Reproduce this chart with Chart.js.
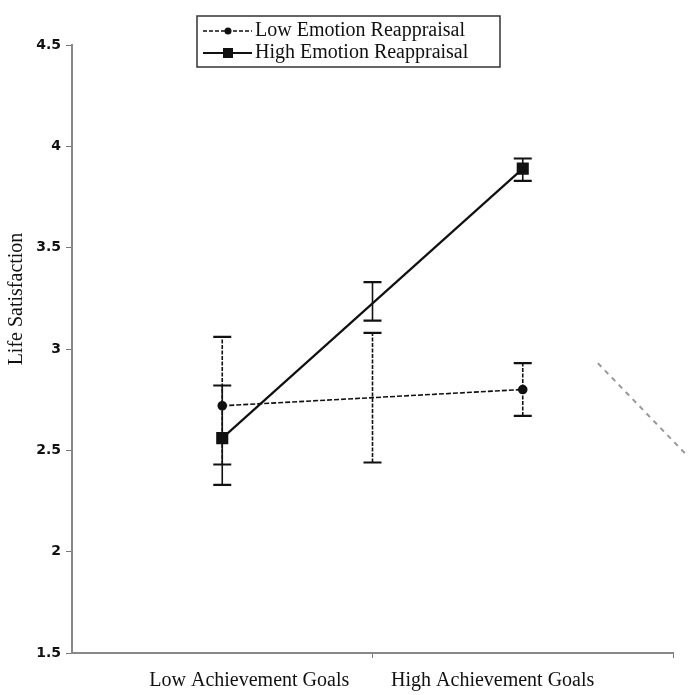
<!DOCTYPE html>
<html>
<head>
<meta charset="utf-8">
<script src="https://cdn.jsdelivr.net/npm/chart.js@4"></script>
<style>
  body { margin: 0; background: #fff; }
  #wrap { width: 694px; height: 695px; }
</style>
</head>
<body>
<div id="wrap"><canvas id="chart" width="694" height="695"></canvas></div>
<script>
// categories sit at 0.5 and 1.5 on a 0..2 linear axis
const categories = ['Low Achievement Goals', 'High Achievement Goals'];
const categoryX = [0.5, 1.5];
const seriesNames = ['Low Emotion Reappraisal', 'High Emotion Reappraisal'];

const lowEmotion = [2.72, 2.80];
const highEmotion = [2.56, 3.89];

// error bar ends [bottom, top]
const lowEmotionErr = [[2.43, 3.06], [2.67, 2.93]];
const highEmotionErr = [[2.33, 2.82], [3.83, 3.94]];

// stray bars drawn between the two groups in the original
const strayBarX = 1;
const strayLowBar = [2.44, 3.08];
const strayHighBar = [3.14, 3.33];

// grey dashed stroke at the right edge
const strayLineX = [1.75, 2.05];
const strayLineY = [2.93, 2.47];

const yTicks = [1.5, 2, 2.5, 3, 3.5, 4, 4.5];
const yTitle = 'Life Satisfaction';

const serif = '"Liberation Serif", "Times New Roman", serif';

// the category names sit a bit closer to the middle than the points do
const labelTicks = [0.59, 1.4];

const errorBars = {
    id: 'errorBars',
    beforeDatasetsDraw(chart) {
        const xs = chart.scales.x, ys = chart.scales.y;
        const ctx = chart.ctx;
        function bar(x, lo, hi, dashed) {
            const px = xs.getPixelForValue(x);
            const y1 = ys.getPixelForValue(lo), y2 = ys.getPixelForValue(hi);
            ctx.save();
            ctx.strokeStyle = '#111';
            ctx.lineWidth = 1.6;
            ctx.setLineDash(dashed ? [4, 1.5] : []);
            ctx.beginPath();
            ctx.moveTo(px, y1); ctx.lineTo(px, y2);
            ctx.stroke();
            ctx.setLineDash([]);
            ctx.lineWidth = 2.2;
            ctx.beginPath();
            ctx.moveTo(px - 9, y1); ctx.lineTo(px + 9, y1);
            ctx.moveTo(px - 9, y2); ctx.lineTo(px + 9, y2);
            ctx.stroke();
            ctx.restore();
        }
        categoryX.forEach((x, i) => {
            bar(x, lowEmotionErr[i][0], lowEmotionErr[i][1], true);
            bar(x, highEmotionErr[i][0], highEmotionErr[i][1], false);
        });
        bar(strayBarX, strayLowBar[0], strayLowBar[1], true);
        bar(strayBarX, strayHighBar[0], strayHighBar[1], false);
    },
    afterDraw(chart) {
        const ctx = chart.ctx;
        ctx.save();
        // y axis title
        ctx.fillStyle = '#111';
        ctx.font = '20px ' + serif;
        ctx.textAlign = 'center';
        ctx.textBaseline = 'middle';
        ctx.translate(17, 299);
        ctx.rotate(-Math.PI / 2);
        ctx.fillText(yTitle, 0, 0);
        ctx.restore();

        // legend box
        ctx.save();
        ctx.fillStyle = '#fff';
        ctx.fillRect(197, 16, 303, 51);
        ctx.strokeStyle = '#333';
        ctx.lineWidth = 1.5;
        ctx.strokeRect(197, 16, 303, 51);
        ctx.strokeStyle = '#111';
        ctx.fillStyle = '#111';
        // row 1
        ctx.lineWidth = 1.5;
        ctx.setLineDash([4, 2]);
        ctx.beginPath(); ctx.moveTo(203, 31); ctx.lineTo(252, 31); ctx.stroke();
        ctx.setLineDash([]);
        ctx.beginPath(); ctx.arc(228, 31, 3.5, 0, Math.PI * 2); ctx.fill();
        // row 2
        ctx.lineWidth = 2.2;
        ctx.beginPath(); ctx.moveTo(203, 53); ctx.lineTo(252, 53); ctx.stroke();
        ctx.fillRect(223, 48, 10, 10);
        ctx.font = '20px ' + serif;
        ctx.textAlign = 'left';
        ctx.textBaseline = 'middle';
        ctx.fillText(seriesNames[0], 255, 31);
        ctx.fillText(seriesNames[1], 255, 53);
        ctx.restore();
    }
};

new Chart(document.getElementById('chart'), {
    type: 'line',
    data: {
        datasets: [
            {
                label: seriesNames[0],
                data: categoryX.map((x, i) => ({ x: x, y: lowEmotion[i] })),
                borderColor: '#111',
                backgroundColor: '#111',
                borderWidth: 1.6,
                borderDash: [5, 2],
                pointStyle: 'circle',
                pointRadius: 4,
                tension: 0
            },
            {
                label: seriesNames[1],
                data: categoryX.map((x, i) => ({ x: x, y: highEmotion[i] })),
                borderColor: '#111',
                backgroundColor: '#111',
                borderWidth: 2.2,
                pointStyle: 'rect',
                pointRadius: 7,
                tension: 0
            },
            {
                label: 'stray',
                data: strayLineX.map((x, i) => ({ x: x, y: strayLineY[i] })),
                borderColor: '#999',
                borderWidth: 2,
                borderDash: [5, 5],
                pointRadius: 0,
                clip: false
            }
        ]
    },
    options: {
        responsive: false,
        animation: false,
        layout: { padding: { top: 45, right: 21, bottom: 0, left: 0 } },
        plugins: {
            legend: { display: false },
            tooltip: { enabled: false }
        },
        scales: {
            x: {
                type: 'linear',
                min: 0,
                max: 2,
                afterBuildTicks(scale) {
                    scale.ticks = [labelTicks[0], 1, labelTicks[1], 2].map(v => ({ value: v }));
                },
                afterFit(scale) { scale.height = 42; },
                border: { color: '#888', width: 2 },
                grid: {
                    drawOnChartArea: false,
                    tickLength: 5,
                    color: ctx => (ctx.tick && (ctx.tick.value === 1 || ctx.tick.value === 2)) ? '#777' : 'rgba(0,0,0,0)'
                },
                ticks: {
                    autoSkip: false,
                    maxRotation: 0,
                    padding: 11,
                    color: '#111',
                    font: { family: serif, size: 20 },
                    callback: v => v === labelTicks[0] ? categories[0] : v === labelTicks[1] ? categories[1] : ''
                }
            },
            y: {
                min: 1.5,
                max: 4.5,
                afterBuildTicks(scale) {
                    scale.ticks = yTicks.map(v => ({ value: v }));
                },
                afterFit(scale) { scale.width = 72; },
                border: { color: '#888', width: 2 },
                grid: {
                    drawOnChartArea: false,
                    tickLength: 6,
                    color: '#777'
                },
                ticks: {
                    padding: 5,
                    color: '#111',
                    font: { family: '"DejaVu Sans", Verdana, sans-serif', size: 14, weight: 'bold' },
                    callback: v => String(v)
                }
            }
        }
    },
    plugins: [errorBars]
});
</script>
</body>
</html>
